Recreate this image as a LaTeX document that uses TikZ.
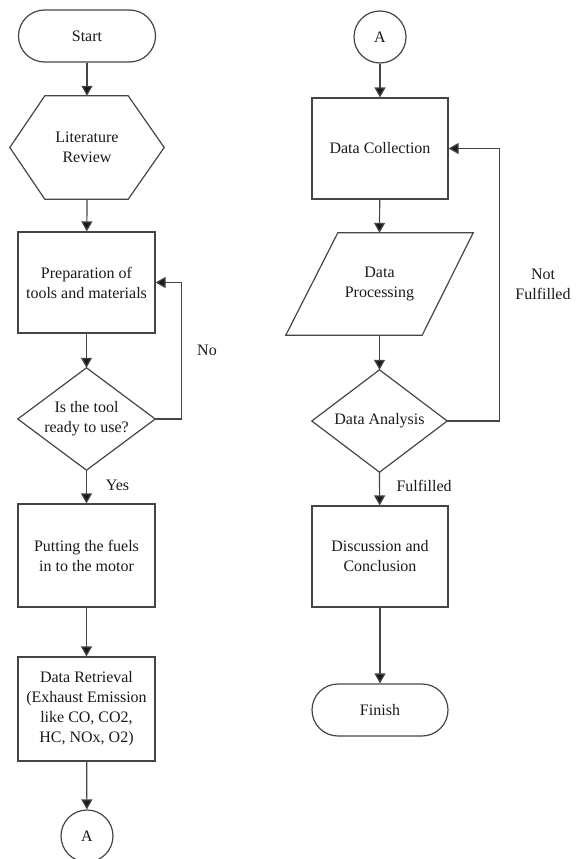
\documentclass[tikz,border=0pt]{standalone}
\usepackage{fontspec}
\setmainfont{Liberation Serif}
\usepackage{xcolor}
\usepackage{tikz}
\usetikzlibrary{calc,arrows.meta}
\definecolor{ink}{HTML}{1A1A1A}
\definecolor{edge}{HTML}{454545}
\tikzset{
  base/.style={draw=edge, line width=1.2pt, line join=miter},
  arr/.style={base, -{Triangle[length=10pt,width=11pt,fill=ink]}},
  box/.style={base, rectangle, minimum width=137pt, minimum height=102pt, inner sep=0pt, align=center},
  term/.style={box, rounded corners=26pt, minimum height=52pt},
  conn/.style={base, circle, minimum size=52pt, inner sep=0pt},
  shp/.style={rectangle, inner sep=0pt, align=center},
  lab/.style={text=ink, align=center},
  every node/.style={text=ink, font=\fontsize{16}{20}\selectfont},
}
\begin{document}
\begin{tikzpicture}[x=1pt,y=-1pt]
  \useasboundingbox (0,0) rectangle (576,859);

  \node[term] (start) at (87,36) {Start};
  \node[shp, minimum width=154pt, minimum height=103pt] (lit) at (87,147.5) {Literature\\Review};
  \draw[base] (lit.west) -- ([xshift=35pt]lit.north west) -- ([xshift=-36pt]lit.north east)
    -- (lit.east) -- ([xshift=-36pt]lit.south east) -- ([xshift=35pt]lit.south west) -- cycle;
  \node[box, minimum height=101pt] (prep) at (86.5,282.5) {Preparation of\\tools and materials};
  \node[shp, minimum width=137pt, minimum height=102pt] (ready) at (86.5,419) {Is the tool\\ready to use?};
  \draw[base] (ready.north) -- (ready.east) -- (ready.south) -- (ready.west) -- cycle;
  \node[box, minimum height=103pt] (fuel) at (86.5,555.5) {Putting the fuels\\in to the motor};
  \node[box, minimum height=104pt] (retr) at (86.5,709) {Data Retrieval\\(Exhaust Emission\\like CO, CO2,\\HC, NOx, O2)};
  \node[conn] (conA) at (87,836) {A};

  \node[conn] (conB) at (380,37) {A};
  \node[box, minimum width=136pt, minimum height=101pt] (coll) at (380,148.5) {Data Collection};
  \node[shp, minimum width=187pt, minimum height=102pt] (proc) at (379.5,284) {Data\\Processing};
  \draw[base] (proc.south west) -- ([xshift=-51pt]proc.south east) -- (proc.north east)
    -- ([xshift=52pt]proc.north west) -- cycle;
  \node[shp, minimum width=135pt, minimum height=102pt] (anal) at (379.5,421) {Data Analysis};
  \draw[base] (anal.north) -- (anal.east) -- (anal.south) -- (anal.west) -- cycle;
  \node[box, minimum width=136pt, minimum height=101pt] (disc) at (380,556.5) {Discussion and\\Conclusion};
  \node[term, minimum width=136pt] (fin) at (380,710) {Finish};

  \draw[arr] (start) -- (lit.north);
  \draw[arr] (lit.south) -- (prep);
  \draw[arr] (prep) -- (ready.north);
  \draw[arr] (ready.east) -- ++(26,0) |- (prep.east);
  \draw[arr] (ready.south) -- (fuel);
  \draw[arr] (fuel) -- (retr);
  \draw[arr] (retr) -- (conA);

  \draw[arr] (conB) -- (coll);
  \draw[arr] (coll) -- (proc.north);
  \draw[arr] (proc.south) -- (anal.north);
  \draw[arr] (anal.east) -- ++(52,0) |- (coll.east);
  \draw[arr] (anal.south) -- (disc);
  \draw[arr] (disc) -- (fin);

  \node[lab] (no) at (207,350) {No};
  \node[lab] (yes) at (117.5,485) {Yes};
  \node[lab] (notful) at (543,284) {Not\\Fulfilled};
  \node[lab, anchor=west] (ful) at (393,486) {Fulfilled};
\end{tikzpicture}
\end{document}
